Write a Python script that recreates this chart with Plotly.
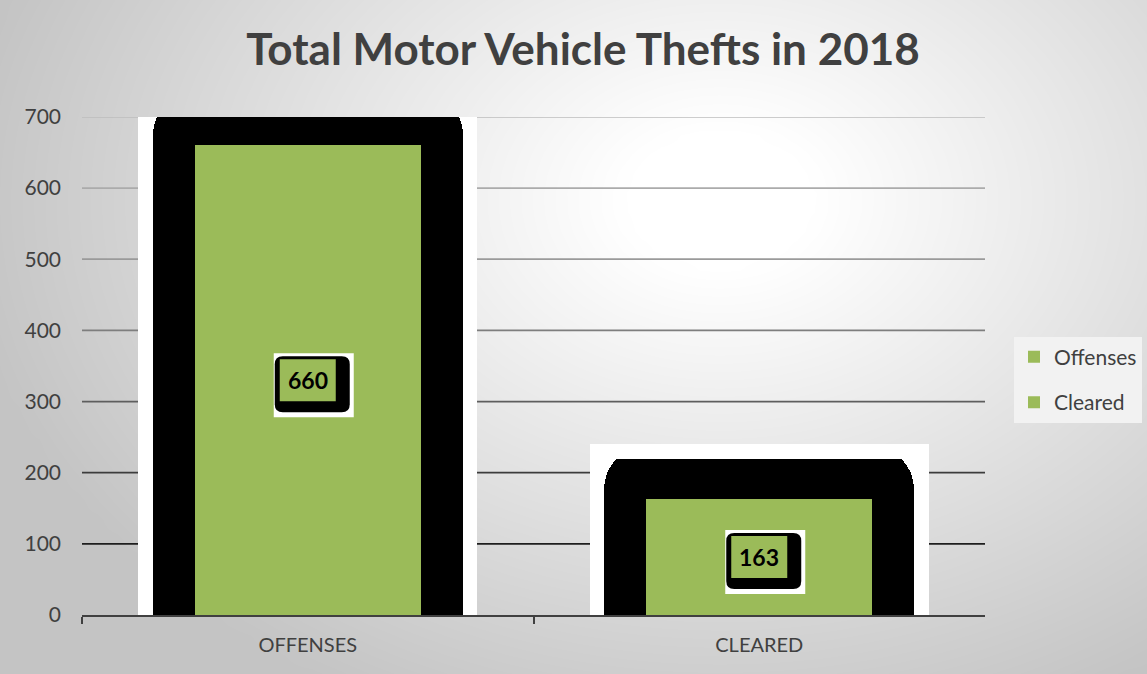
import numpy as np
import plotly.graph_objects as go

# ---------------- data ----------------
categories = ["OFFENSES", "CLEARED"]
series_names = ["Offenses", "Cleared"]
values = [660, 163]
y_ticks = [0, 100, 200, 300, 400, 500, 600, 700]
title_text = "Total Motor Vehicle Thefts in 2018"

# ---------------- style ----------------
GREEN = "#9BBB59"
TEXT = "#404040"
FONT = "Lato"
W, H = 1147, 674
grid_colors = ["#1e1e1e", "#3c3c3c", "#5e5e5e", "#7e7e7e", "#9a9a9a", "#ababab", "#bdbdbd"]
X_DOMAIN = [82 / W, 985 / W]
Y_DOMAIN = [59 / H, 557.1 / H]
Y_RANGE = [0, 700]

fig = go.Figure()

# layer 1 (x/y): soft radial gradient background (decoration)
nx, ny = 60, 36
gx = np.linspace(0, W, nx)
gy = np.linspace(0, H, ny)
GX, GY = np.meshgrid(gx, gy)
cx, cy, rx, ry = 720, 200, 760, 560
dist = np.sqrt(((GX - cx) / rx) ** 2 + ((GY - cy) / ry) ** 2)
shade = np.clip((dist - 0.12) / 0.88, 0, 1)
fig.add_trace(go.Heatmap(x=gx, y=gy, z=shade, colorscale=[[0, "#ffffff"], [1, "#c4c4c4"]],
                         zmin=0, zmax=1, zsmooth="best", showscale=False, hoverinfo="skip",
                         xaxis="x", yaxis="y"))

# layer 2 (x2/y2): horizontal gridlines, one per tick value
for v, c in zip(y_ticks[1:], grid_colors):
    fig.add_trace(go.Scatter(x=[0, 1], y=[v, v], mode="lines", line=dict(color=c, width=1.75),
                             showlegend=False, hoverinfo="skip", xaxis="x2", yaxis="y2"))

# layer 3 (x3/y3): the bars
fig.add_trace(go.Bar(x=categories, y=[v + 77 for v in values], width=0.75,
                     marker=dict(color="white", line=dict(width=0)),
                     showlegend=False, hoverinfo="skip", xaxis="x3", yaxis="y3"))
fig.add_trace(go.Bar(x=categories, y=[v + 57 for v in values], width=0.687,
                     marker=dict(color="black", cornerradius=45, line=dict(width=0)),
                     showlegend=False, hoverinfo="skip", xaxis="x3", yaxis="y3"))
for cat, name, v in zip(categories, series_names, values):
    fig.add_trace(go.Bar(x=[cat], y=[v], width=0.5, name=name, legendgroup=name,
                         marker=dict(color=GREEN, line=dict(width=0)),
                         xaxis="x3", yaxis="y3"))

shapes = []
annotations = []
for i, v in enumerate(values):
    anc = dict(xref="x3", yref="y3", xsizemode="pixel", ysizemode="pixel",
               xanchor=i, yanchor=v / 2)
    shapes.append(dict(type="rect", x0=-34, x1=46, y0=-37, y1=27,
                       fillcolor="white", line=dict(width=0), **anc))
    r = 8
    xl, xr, yb, yt = -33, 42, -32, 24
    path = (f"M{xl + r},{yt} L{xr - r},{yt} Q{xr},{yt} {xr},{yt - r} L{xr},{yb + r} "
            f"Q{xr},{yb} {xr - r},{yb} L{xl + r},{yb} Q{xl},{yb} {xl},{yb + r} "
            f"L{xl},{yt - r} Q{xl},{yt} {xl + r},{yt} Z")
    shapes.append(dict(type="path", path=path, fillcolor="black", line=dict(width=0), **anc))
    shapes.append(dict(type="rect", x0=-28, x1=28, y0=-21, y1=21,
                       fillcolor=GREEN, line=dict(width=0), **anc))
    annotations.append(dict(x=i, y=v / 2, xref="x3", yref="y3", text=f"<b>{v}</b>",
                            showarrow=False, font=dict(family=FONT, size=23, color="black")))

hidden = dict(visible=False, fixedrange=True, automargin=False, showgrid=False, zeroline=False)

fig.update_layout(
    width=W, height=H,
    autosize=False,
    margin=dict(l=0, r=0, t=0, b=0, pad=0, autoexpand=False),
    paper_bgcolor="#c4c4c4",
    plot_bgcolor="rgba(0,0,0,0)",
    barmode="overlay",
    bargap=0,
    title=dict(text=f"<b>{title_text}</b>", x=583 / W, xanchor="center", xref="paper",
               y=1 - 50 / H, yanchor="middle", yref="paper",
               font=dict(family=FONT, size=44, color=TEXT)),
    xaxis=dict(domain=[0, 1], range=[0, W], **hidden),
    yaxis=dict(domain=[0, 1], range=[H, 0], **hidden),
    xaxis2=dict(domain=X_DOMAIN, range=[0, 1], anchor="y2", **hidden),
    yaxis2=dict(domain=Y_DOMAIN, range=Y_RANGE, anchor="x2", **hidden),
    xaxis3=dict(domain=X_DOMAIN, anchor="y3", type="category",
                categoryorder="array", categoryarray=categories, range=[-0.5, 1.5],
                showline=True, linecolor=TEXT, linewidth=2,
                ticks="outside", tickson="boundaries", ticklen=7, tickwidth=2, tickcolor=TEXT,
                showgrid=False, zeroline=False, automargin=False, fixedrange=True,
                tickfont=dict(family=FONT, size=20, color=TEXT), ticklabelstandoff=11),
    yaxis3=dict(domain=Y_DOMAIN, anchor="x3", range=Y_RANGE,
                tickmode="array", tickvals=y_ticks, showgrid=False, zeroline=False,
                showline=False, ticks="", automargin=False, fixedrange=True,
                tickfont=dict(family=FONT, size=21, color=TEXT), ticklabelstandoff=20),
    legend=dict(x=1014 / W, y=1 - 336.7 / H, xanchor="left", yanchor="top",
                bgcolor="#f2f2f2", borderwidth=0, tracegroupgap=15,
                font=dict(family=FONT, size=21, color=TEXT)),
    shapes=shapes,
    annotations=annotations,
)

fig.write_html("out.html", config={"displayModeBar": False},
               post_script="document.body.style.margin='0';")
